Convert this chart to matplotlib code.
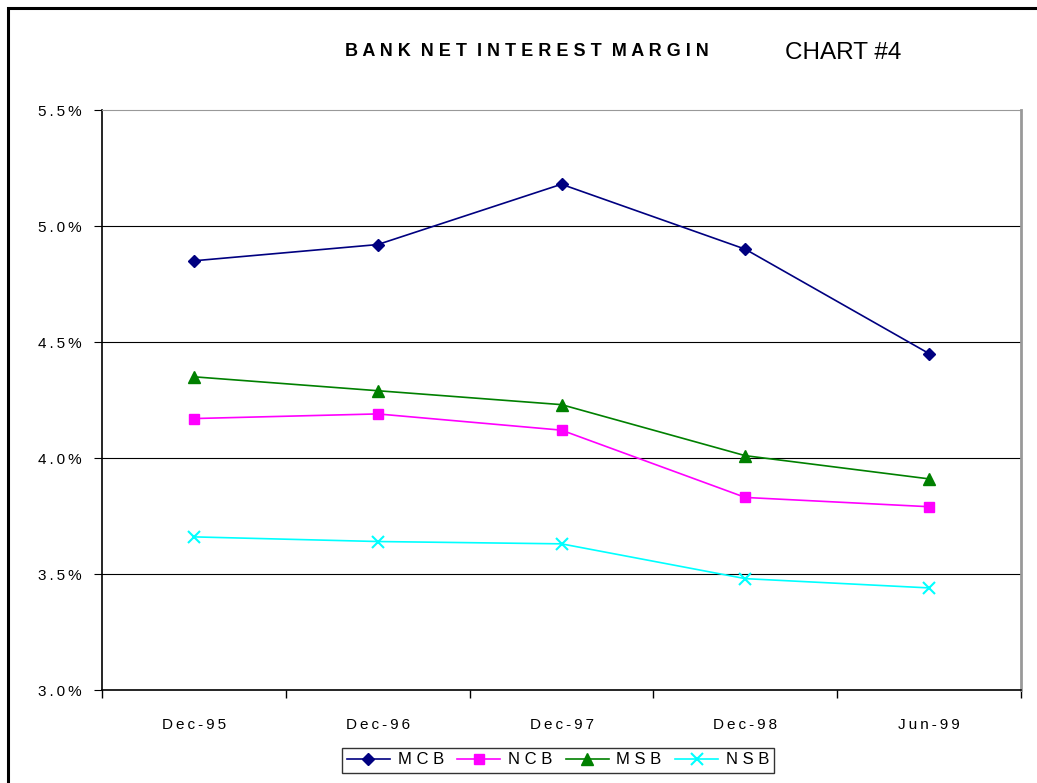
import matplotlib.pyplot as plt
from matplotlib.patches import Rectangle
from matplotlib.ticker import FuncFormatter, FixedLocator

plt.rcParams['font.family'] = ['Liberation Sans', 'DejaVu Sans']

periods = ["Dec-95", "Dec-96", "Dec-97", "Dec-98", "Jun-99"]
mcb = [4.85, 4.92, 5.18, 4.90, 4.45]
ncb = [4.17, 4.19, 4.12, 3.83, 3.79]
msb = [4.35, 4.29, 4.23, 4.01, 3.91]
nsb = [3.66, 3.64, 3.63, 3.48, 3.44]

series = [
    ("M C B", mcb, "#000080", "D", 6),
    ("N C B", ncb, "#ff00ff", "s", 7),
    ("M S B", msb, "#008000", "^", 8),
    ("N S B", nsb, "#00ffff", "x", 8),
]

fig = plt.figure(figsize=(10.37, 7.83), dpi=100)
ax = fig.add_axes([102/1037, 93/783, 919/1037, 580/783])

x = list(range(len(periods)))
for label, vals, col, mk, ms in series:
    ax.plot(x, vals, color=col, marker=mk, markersize=ms, lw=1.2,
            mew=1.5 if mk == "x" else 1, label=label)

ax.set_xlim(-0.5, len(periods) - 0.5)
ax.set_ylim(3.0, 5.5)
ax.set_yticks([3.0, 3.5, 4.0, 4.5, 5.0, 5.5])
# thin-ish letter spacing like the original spreadsheet export
ax.yaxis.set_major_formatter(FuncFormatter(lambda v, p: "\u2009".join(f"{v:.1f}%")))
ax.set_xticks(x)
ax.set_xticklabels(["\u2009".join(p) for p in periods])
ax.xaxis.set_minor_locator(FixedLocator([i - 0.5 for i in range(len(periods) + 1)]))
ax.tick_params(axis="x", which="major", length=0, pad=20, labelsize=11)
ax.tick_params(axis="x", which="minor", length=6, direction="out", width=1)
ax.tick_params(axis="y", length=6, direction="out", labelsize=11, pad=9)

for yv in [3.5, 4.0, 4.5, 5.0]:
    ax.axhline(yv, color="black", lw=0.8, zorder=0)

ax.spines["top"].set_color("#999999")
ax.spines["right"].set_color("#999999")
ax.spines["right"].set_linewidth(2)
ax.spines["left"].set_linewidth(1.2)
ax.spines["bottom"].set_linewidth(1.2)

fig.text(527/1037, 1 - 52/783, "B A N K  N E T  I N T E R E S T  M A R G I N",
         ha="center", va="center", fontsize=13, fontweight="bold")
fig.text(843/1037, 1 - 53/783, "CHART #4", ha="center", va="center", fontsize=17.5)

leg = fig.legend(loc="center", bbox_to_anchor=(558/1037, 1 - 760/783), ncol=4,
                 frameon=True, fancybox=False, edgecolor="black", fontsize=12,
                 handlelength=2.6, columnspacing=0.8, handletextpad=0.45,
                 borderpad=0.3)
leg.get_frame().set_linewidth(1)

fig.patches.append(Rectangle((8/1037, -0.05), 1.1, 1 - 8/783 + 0.05,
                             transform=fig.transFigure, fill=False,
                             edgecolor="black", lw=2.2))

fig.savefig("out.png", dpi=100)
